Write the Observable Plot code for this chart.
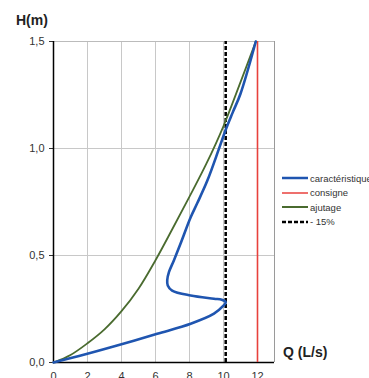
<!DOCTYPE html>
<html>
<head>
<meta charset="utf-8">
<script src="https://cdn.jsdelivr.net/npm/d3@7"></script>
<script src="https://cdn.jsdelivr.net/npm/@observablehq/plot@0.6"></script>
<style>
  body { margin: 0; background: #fff; font-family: "Liberation Sans", Arial, sans-serif; }
  #wrap { position: relative; width: 369px; height: 378px; overflow: hidden; }
  .lab { position: absolute; font-weight: bold; font-size: 14px; color: #222; }
  #legend { position: absolute; left: 282px; top: 171px; font-size: 9.5px; color: #333; }
  #legend div { height: 14.5px; display: flex; align-items: center; white-space: nowrap; }
  #legend svg { margin-right: 2px; }
</style>
</head>
<body>
<div id="wrap"></div>
<script>
// Data
const caracteristique = [
  [0, 0], [1.5, 0.03], [3.74, 0.079], [6.1, 0.134], [8.07, 0.181], [9.44, 0.228],
  [9.95, 0.262], [10.13, 0.282], [9.9, 0.293], [9.44, 0.298], [8.07, 0.313],
  [6.98, 0.336], [6.72, 0.36], [6.69, 0.385], [6.79, 0.422], [7.08, 0.477],
  [7.47, 0.555], [8.07, 0.679], [8.46, 0.745], [9.05, 0.85], [9.73, 0.998],
  [10.13, 1.088], [10.55, 1.17], [11.0, 1.256], [11.9, 1.5]
];
const ajutage = [
  [0, 0], [1, 0.035], [2, 0.09], [3, 0.155], [4, 0.24], [5, 0.345], [6, 0.478],
  [7, 0.625], [8, 0.775], [9, 0.93], [10, 1.105], [11, 1.31], [11.9, 1.5]
];
const consigneQ = 12;
const moins15Q = 10.13;
const xTicks = [0, 2, 4, 6, 8, 10, 12];
const yTicks = [0, 0.5, 1.0, 1.5];
const legendItems = [
  {name: "caractéristique", color: "#1f55b0", dash: null, w: 2.5},
  {name: "consigne", color: "#e8413c", dash: null, w: 1.5},
  {name: "ajutage", color: "#4a6b2f", dash: null, w: 2},
  {name: "- 15%", color: "#000", dash: "4,2", w: 2.5}
];

const fmt = d => d3.format(".1f")(d).replace(".", ",");

const plot = Plot.plot({
  width: 369,
  height: 378,
  marginLeft: 53,
  marginRight: 95,
  marginTop: 41,
  marginBottom: 16,
  style: {fontFamily: "Liberation Sans, Arial, sans-serif", fontSize: "11px", color: "#333", background: "#fff"},
  x: {domain: [0, 13], ticks: xTicks, tickFormat: d => String(d), label: null, tickSize: 0, tickPadding: 10},
  y: {domain: [0, 1.5], ticks: yTicks, tickFormat: fmt, label: null, tickSize: 4, tickPadding: 5},
  marks: [
    Plot.ruleX(xTicks.filter(d => d > 0), {stroke: "#c8c8c8", strokeWidth: 1}),
    Plot.ruleY(yTicks.filter(d => d > 0), {stroke: "#c8c8c8", strokeWidth: 1}),
    Plot.ruleX([13], {stroke: "#9a9a9a", strokeWidth: 1}),
    Plot.ruleY([1.5], {stroke: "#bbbbbb", strokeWidth: 1}),
    Plot.ruleX([0], {stroke: "#000", strokeWidth: 1.5}),
    Plot.ruleY([0], {stroke: "#000", strokeWidth: 1.5}),
    Plot.ruleX([consigneQ], {y1: 0, y2: 1.5, stroke: "#e8413c", strokeWidth: 1.6}),
    Plot.ruleX([moins15Q], {y1: 0, y2: 1.5, stroke: "#000", strokeWidth: 2.5, strokeDasharray: "4,2"}),
    Plot.line(ajutage, {x: d => d[0], y: d => d[1], stroke: "#4a6b2f", strokeWidth: 1.8, curve: "catmull-rom"}),
    Plot.line(caracteristique, {x: d => d[0], y: d => d[1], stroke: "#1f55b0", strokeWidth: 2.6, curve: "catmull-rom"})
  ]
});

const wrap = document.getElementById("wrap");
wrap.appendChild(plot);

const hl = document.createElement("div");
hl.className = "lab"; hl.textContent = "H(m)";
hl.style.left = "16px"; hl.style.top = "12px";
wrap.appendChild(hl);

const ql = document.createElement("div");
ql.className = "lab"; ql.textContent = "Q (L/s)";
ql.style.left = "283px"; ql.style.top = "344px";
wrap.appendChild(ql);

const lg = document.createElement("div");
lg.id = "legend";
for (const it of legendItems) {
  const row = document.createElement("div");
  row.innerHTML = `<svg width="26" height="6"><line x1="0" y1="3" x2="26" y2="3" stroke="${it.color}" stroke-width="${it.w}" ${it.dash ? `stroke-dasharray="${it.dash}"` : ""}/></svg><span>${it.name}</span>`;
  lg.appendChild(row);
}
wrap.appendChild(lg);
</script>
</body>
</html>
